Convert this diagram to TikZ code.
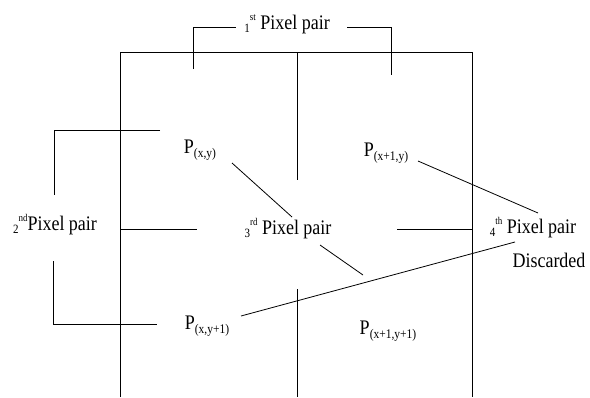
\documentclass[tikz,border=0pt]{standalone}
\usepackage{fontspec}
\usepackage{graphicx}
\setmainfont{Liberation Serif}
\newcommand\tall[1]{\scalebox{1}[1.15]{#1}}
\newcommand\Plab[1]{\tall{P\raisebox{-4pt}{\fontsize{11.5}{11.5}\selectfont(#1)}}}
\newcommand\ordn[2]{\raisebox{-3pt}{\fontsize{11}{11}\selectfont #1}\raisebox{7pt}{\fontsize{9}{9}\selectfont #2}}
\begin{document}
\begin{tikzpicture}[x=1pt,y=-1pt,line width=0.9pt,
  txt/.style={inner sep=0pt,anchor=base,font=\fontsize{18}{18}\selectfont}]
\useasboundingbox (0,0) rectangle (590,397);
% frame
\draw (120,397) -- (120,52) -- (472,52) -- (472,397);
\draw (297,52) -- (297,180);
\draw (297,289) -- (297,397);
\draw (120,229) -- (197,229);
\draw (397,229) -- (472,229);
% brackets
\draw (193,69) -- (193,27) -- (236,27);
\draw (347,27) -- (391,27) -- (391,75);
\draw (160,130) -- (54,130) -- (54,195);
\draw (53,261) -- (53,324) -- (157,324);
% texts
\node[txt] (first) at (287,29) {\tall{\ordn{1}{st} Pixel pair}};
\node[txt] (second) at (55,230) {\tall{\ordn{2}{nd}Pixel pair}};
\node[txt] (third) at (288,234) {\tall{\ordn{3}{rd} Pixel pair}};
\node[txt] (fourth) at (533,233) {\tall{\ordn{4}{th} Pixel pair}};
\node[txt] (disc) at (549,267) {\tall{Discarded}};
\node[txt] (pxy) at (200,153) {\Plab{x,y}};
\node[txt] (px1y) at (386,156) {\Plab{x+1,y}};
\node[txt] (pxy1) at (207,329) {\Plab{x,y+1}};
\node[txt] (px1y1) at (388,334) {\Plab{x+1,y+1}};
% connectors
\coordinate (a1) at (232,163); \coordinate (a2) at (292,217);
\coordinate (b1) at (320,245); \coordinate (b2) at (363,275);
\coordinate (c1) at (418,161); \coordinate (c2) at (538,213);
\coordinate (d1) at (241,316); \coordinate (d2) at (515,242);
\draw[line width=0.8pt] (a1) -- (a2);
\draw[line width=0.8pt] (b1) -- (b2);
\draw[line width=0.8pt] (c1) -- (c2);
\draw[line width=0.8pt] (d1) -- (d2);
\end{tikzpicture}
\end{document}
